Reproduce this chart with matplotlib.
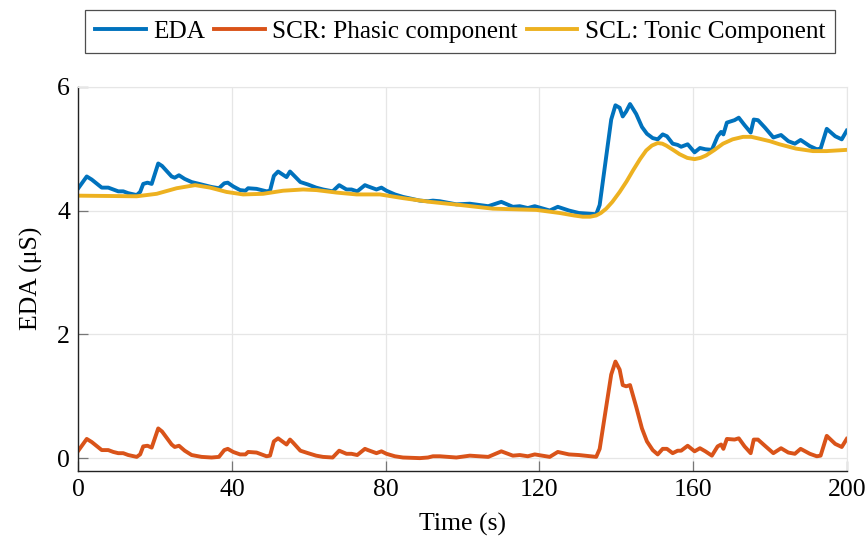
import matplotlib.pyplot as plt

# sample times (s) for EDA and phasic SCR
t = [0, 2.2, 3.5, 6.1, 7.8, 9.1, 10.4, 11.7, 13, 15.2, 16.1, 16.9, 18.0, 19.1,
     20.8, 21.8, 24.3, 25.1, 26.2, 27.7, 29.5, 32.1, 34.7, 36.6, 38, 38.9,
     40.3, 42.1, 43.5, 44.2, 46.4, 49, 49.9, 50.9, 52, 54.2, 55.1, 55.9, 57.8,
     59.8, 61.9, 63.7, 66.2, 67.9, 69.8, 71.1, 72.6, 74.6, 75.4, 77.6, 78.9,
     80.2, 82.4, 84.5, 88.9, 91, 92.3, 94.1, 98.4, 101.9, 106.7, 110.1, 113.1,
     114.9, 117, 118.8, 122.7, 124.8, 127.7, 130.3, 134.8, 135.7, 138.7, 139.8,
     140.9, 141.7, 142.6, 143.6, 145.2, 146.7, 148, 149.5, 150.8, 152.1, 153.2,
     154.7, 156, 156.9, 158.6, 160.4, 161.8, 163.2, 164.9, 166.4, 167.3, 167.9,
     168.8, 170.8, 171.9, 173.4, 175, 175.8, 176.9, 178.7, 180.9, 182.9, 184.8,
     186.5, 188, 190.4, 192.2, 193.2, 194.8, 197, 198.7, 200]

eda = [4.36, 4.55, 4.50, 4.37, 4.37, 4.34, 4.31, 4.31, 4.28, 4.25, 4.30, 4.43,
       4.45, 4.43, 4.76, 4.72, 4.55, 4.53, 4.57, 4.51, 4.46, 4.42, 4.38, 4.36,
       4.44, 4.45, 4.39, 4.33, 4.32, 4.36, 4.35, 4.31, 4.32, 4.56, 4.63, 4.54,
       4.63, 4.58, 4.46, 4.42, 4.37, 4.34, 4.31, 4.41, 4.34, 4.34, 4.31, 4.41,
       4.39, 4.34, 4.37, 4.32, 4.26, 4.22, 4.16, 4.15, 4.16, 4.15, 4.10, 4.11,
       4.07, 4.14, 4.06, 4.07, 4.04, 4.07, 4.00, 4.06, 4.00, 3.96, 3.94, 4.09,
       5.47, 5.70, 5.66, 5.52, 5.60, 5.72, 5.56, 5.35, 5.24, 5.17, 5.15, 5.23,
       5.20, 5.08, 5.06, 5.03, 5.07, 4.94, 5.01, 4.99, 4.98, 5.20, 5.27, 5.23,
       5.42, 5.46, 5.50, 5.38, 5.26, 5.47, 5.46, 5.34, 5.18, 5.22, 5.12, 5.08,
       5.14, 5.04, 4.99, 5.00, 5.32, 5.20, 5.15, 5.29]

scr = [0.12, 0.31, 0.26, 0.13, 0.13, 0.10, 0.08, 0.08, 0.05, 0.02, 0.06, 0.19,
       0.20, 0.17, 0.48, 0.43, 0.22, 0.18, 0.20, 0.12, 0.05, 0.02, 0.01, 0.02,
       0.13, 0.15, 0.10, 0.06, 0.06, 0.10, 0.09, 0.03, 0.04, 0.27, 0.32, 0.22,
       0.30, 0.25, 0.12, 0.08, 0.04, 0.02, 0.01, 0.12, 0.07, 0.07, 0.05, 0.15,
       0.13, 0.08, 0.11, 0.07, 0.03, 0.01, 0.00, 0.01, 0.03, 0.03, 0.01, 0.04,
       0.02, 0.11, 0.04, 0.05, 0.03, 0.06, 0.02, 0.10, 0.06, 0.05, 0.02, 0.15,
       1.35, 1.56, 1.43, 1.18, 1.16, 1.18, 0.83, 0.48, 0.27, 0.13, 0.06, 0.15,
       0.15, 0.08, 0.12, 0.12, 0.20, 0.11, 0.16, 0.11, 0.04, 0.19, 0.22, 0.15,
       0.31, 0.30, 0.32, 0.19, 0.08, 0.30, 0.30, 0.20, 0.08, 0.16, 0.09, 0.07,
       0.15, 0.07, 0.03, 0.04, 0.36, 0.23, 0.18, 0.31]

# tonic component is smooth, sampled more coarsely
t_scl = [0, 15.2, 20.4, 25.6, 30.4, 34.3, 38.6, 42.9, 48.1, 53.3, 58.5, 62,
         67.2, 72.4, 78.5, 84.5, 91.5, 99.3, 107.9, 119.2, 125.3, 129, 131.3,
         133.2, 134.8, 136, 137.4, 139, 140.9, 142.7, 144.4, 146.2, 147.8,
         149.3, 150.8, 152, 153, 154.8, 156.5, 158.5, 160.4, 161.9, 163.4,
         165.6, 167.8, 170.3, 173, 175.2, 177.3, 180, 182.5, 186.8, 191.2,
         194.7, 200]
scl = [4.24, 4.23, 4.27, 4.36, 4.41, 4.37, 4.30, 4.26, 4.27, 4.32, 4.34, 4.33,
       4.29, 4.26, 4.26, 4.20, 4.14, 4.09, 4.03, 4.01, 3.96, 3.92, 3.90,
       3.90, 3.92, 3.96, 4.03, 4.14, 4.30, 4.47, 4.65, 4.83, 4.97,
       5.05, 5.09, 5.08, 5.05, 4.98, 4.91, 4.85, 4.83, 4.85, 4.89,
       4.98, 5.08, 5.15, 5.19, 5.19, 5.16, 5.12, 5.07, 5.00, 4.96,
       4.96, 4.98]

plt.rcParams['font.family'] = ['Liberation Serif', 'DejaVu Serif']

fig = plt.figure(figsize=(8.68, 5.41), dpi=100)
ax = fig.add_axes([0.0902, 0.1303, 0.8853, 0.7094])

ax.plot(t, eda, color='#0072BD', lw=2.8, label='EDA')
ax.plot(t, scr, color='#D95319', lw=2.8, label='SCR: Phasic component')
ax.plot(t_scl, scl, color='#EDB120', lw=2.8, label='SCL: Tonic Component')

ax.set_xlim(0, 200)
ax.set_ylim(-0.2, 6)
ax.set_xticks([0, 40, 80, 120, 160, 200])
ax.set_yticks([0, 2, 4, 6])
ax.grid(True, color='#e6e6e6', lw=0.9)
ax.set_axisbelow(True)
ax.tick_params(direction='in', length=7, width=0.9, color='#777777',
               labelsize=18.5, pad=6)
for s in ['top', 'right']:
    ax.spines[s].set_color('#e6e6e6')
for s in ['left', 'bottom']:
    ax.spines[s].set_color('#222222')
    ax.spines[s].set_linewidth(1.0)

ax.set_xlabel('Time (s)', fontsize=18.5, labelpad=9)
ax.set_ylabel('EDA (μS)', fontsize=18.5, labelpad=10)

leg = ax.legend(loc='lower center', bbox_to_anchor=(0.497, 1.088), ncol=3,
                fontsize=18.2, frameon=True, fancybox=False, borderaxespad=0,
                handlelength=2.0, handletextpad=0.3, columnspacing=0.35,
                borderpad=0.4)
leg.get_frame().set_edgecolor('#222222')
leg.get_frame().set_linewidth(0.9)

fig.savefig('out.png', dpi=100)
